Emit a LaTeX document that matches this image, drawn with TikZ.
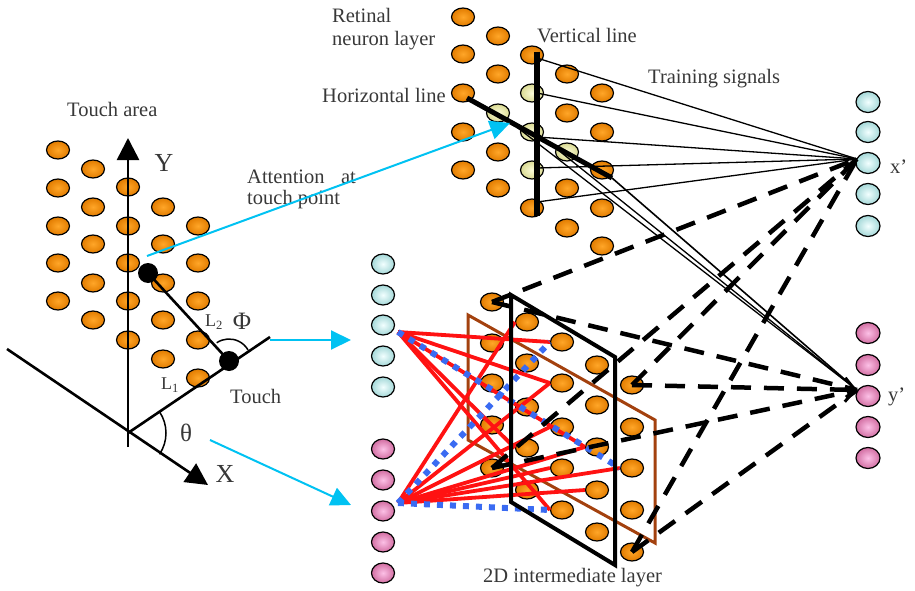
\documentclass[tikz,border=0pt]{standalone}
\usepackage{fontspec}
\setmainfont{Liberation Serif}
\usetikzlibrary{shapes.geometric,arrows.meta,calc}

\definecolor{txt}{HTML}{383838}
\definecolor{orin}{HTML}{FFA628}
\definecolor{orout}{HTML}{E27C00}
\definecolor{yein}{HTML}{FBFBD8}
\definecolor{yeout}{HTML}{DADA92}
\definecolor{cyin}{HTML}{F2FFFF}
\definecolor{cyout}{HTML}{A4D8D8}
\definecolor{pkin}{HTML}{FCC0E6}
\definecolor{pkout}{HTML}{D26EA2}
\definecolor{cyanline}{HTML}{00C2F2}
\definecolor{redl}{HTML}{FF1212}
\definecolor{bluel}{HTML}{3A6BF2}
\definecolor{brownl}{HTML}{A3410E}

\begin{document}
\begin{tikzpicture}[x=1pt,y=-1pt,
  lbl/.style={font=\fontsize{20.5}{23}\selectfont, text=txt, inner sep=0pt},
  biglbl/.style={font=\fontsize{26}{28}\selectfont, text=txt, inner sep=0pt},
  greek/.style={font=\fontsize{25}{27}\selectfont, text=txt, inner sep=0pt},
  dotbase/.style={ellipse, draw=black, line width=1.2pt, minimum width=23pt,
    minimum height=18pt, inner sep=0pt},
  od/.style={dotbase, inner color=orin, outer color=orout},
  yd/.style={dotbase, inner color=yein, outer color=yeout},
  cd/.style={dotbase, minimum height=20pt, inner color=cyin, outer color=cyout},
  pd/.style={dotbase, minimum height=20pt, inner color=pkin, outer color=pkout},
  xcd/.style={cd, minimum width=24pt, minimum height=21pt},
  ypd/.style={pd, minimum width=24pt, minimum height=21pt},
  bdot/.style={circle, fill=black, minimum size=20pt, inner sep=0pt},
  axisline/.style={line width=2.6pt, black},
  bigtip/.style={-{Triangle[width=22pt,length=22pt]}},
  cyarrow/.style={draw=cyanline, line width=2pt, -{Triangle[width=19pt,length=20pt]}},
  thinw/.style={line width=1.3pt},
  redw/.style={draw=redl, line width=3.8pt},
  bluedot/.style={draw=bluel, line width=6pt, dash pattern=on 6pt off 7pt},
  dashw/.style={line width=4.5pt, dash pattern=on 20pt off 13pt},
]
\useasboundingbox (0,0) rectangle (915,591);

% ---------- touch area ----------
\foreach \c/\x/\list in {1/58/{150,188,226,263,301}, 2/93/{169,207,244,283,320},
    3/128/{187,226,263,301,340}, 4/163/{207,244,283,320,359}, 5/198/{226,263,301,340,378}}
  \foreach \y [count=\r] in \list
    \node[od] (ta-\c-\r) at (\x,\y) {};

\coordinate (orig) at (128,433);
\coordinate (ytip) at (128,138);
\coordinate (ybot) at (128,447);
\coordinate (xstart) at (7,349);
\coordinate (xtip) at (208,485);
\coordinate (tend) at (270,337);
\draw[axisline, bigtip] (ybot) -- (ytip);
\draw[axisline, bigtip] (xstart) -- (xtip);
\draw[axisline] (orig) -- (tend);

\node[bdot] (p0) at (148,273) {};
\node[bdot] (touch) at (229,361) {};
\draw[axisline] (p0.center) -- (touch.center);

\draw[line width=1.5pt] ($(touch)+(-124:22)$) arc[start angle=-124, end angle=-30, radius=22];
\draw[line width=1.5pt] ($(orig)+(-34:38)$) arc[start angle=-34, end angle=34, radius=38];

\node[lbl, anchor=base west] (lbl-ta) at (67,117) {Touch area};
\node[biglbl] (lbl-y) at (164,163) {Y};
\node[biglbl] (lbl-x) at (225,474) {X};
\node[greek] (lbl-th) at (186,433) {θ};
\node[greek] (lbl-phi) at (242,321) {Φ};
\node[lbl, font=\fontsize{18}{20}\selectfont] (lbl-l2) at (214,322) {L\textsubscript{2}};
\node[lbl, font=\fontsize{18}{20}\selectfont] (lbl-l1) at (170,385) {L\textsubscript{1}};
\node[lbl, anchor=base west] (lbl-touch) at (230,403) {Touch};
\node[lbl, anchor=base west] (lbl-att1) at (247,183) {Attention\hspace{0.8em}at};
\node[lbl, anchor=base west] (lbl-att2) at (247,204) {touch point};

% ---------- retinal neuron layer ----------
\foreach \col/\x/\list in {
    a/463/{17/od,54/od,93/od,132/od,170/od},
    b/498/{36/od,74/od,113/yd,152/od,188/od},
    c/532/{55/od,93/yd,132/yd,170/yd,208/od},
    d/567/{74/od,113/od,152/yd,188/od,228/od},
    e/602/{93/od,132/od,170/od,208/od,246/od}}
  \foreach \y/\s [count=\r] in \list
    \node[\s] (ret-\col\r) at (\x,\y) {};

% output units
\foreach \y [count=\r] in {102,132,163,194,226}
  \node[xcd] (ox-\r) at (868,\y) {};
\foreach \y [count=\r] in {333,365,396,427,458}
  \node[ypd] (oy-\r) at (868,\y) {};

\coordinate (xin) at (857,159);
\coordinate (yin) at (857,390);
\coordinate (vtop) at (537,52);
\coordinate (vbot) at (537,216);
\coordinate (hstart) at (467,98);
\coordinate (hend) at (612,178);

\foreach \r/\dy in {1/3,2/0,3/5,4/-2,5/-6}
  \draw[thinw] ([shift={(5,\dy)}]ret-c\r.center) -- (xin);
\draw[line width=1.6pt] (hend) -- (yin);
\draw[thinw] ([shift={(5,1)}]ret-c3.center) -- (yin);
\draw[thinw] ([shift={(7,5)}]ret-b3.center) -- (yin);
\draw[line width=6pt] (vtop) -- (vbot);
\draw[line width=5pt] (hstart) -- (hend);

\node[lbl, anchor=base west] (lbl-ret1) at (332,23) {Retinal};
\node[lbl, anchor=base west] (lbl-ret2) at (332,46) {neuron layer};
\node[lbl, anchor=base west] (lbl-hl) at (322,103) {Horizontal line};
\node[lbl, anchor=base west] (lbl-vl) at (537,43) {Vertical line};
\node[lbl, anchor=base west] (lbl-tr) at (648,84) {Training signals};
\node[lbl, anchor=base west] (lbl-xo) at (890,173) {x’};
\node[lbl, anchor=base west] (lbl-yo) at (888,401) {y’};

% ---------- input units and 2D intermediate layer ----------
\foreach \y [count=\r] in {264,295,325,356,387}
  \node[cd] (ix-\r) at (383,\y) {};
\foreach \y [count=\r] in {449,480,511,542,573}
  \node[pd] (iy-\r) at (383,\y) {};

\foreach \col/\x/\list in {p/492/{302,343,383,425,468}, q/527/{322,363,407,448,490},
    r/562/{342,383,427,468,510}, s/597/{365,405,447,490,532}, t/632/{385,427,468,510,552}}
  \foreach \y [count=\r] in \list
    \node[od] (int-\col\r) at (\x,\y) {};

\draw[brownl, line width=3pt, line join=miter] (468,315) -- (655,420) -- (655,543) -- (468,440) -- cycle;

\coordinate (csrc) at (398,332);
\coordinate (ysrc) at (398,503);
\foreach \t in {int-r1, int-r2, int-s3, int-r5, int-q4}
  \draw[redw] (csrc) -- (\t.west);
\foreach \t in {int-q1, int-r2, int-r3, int-s3, int-t3, int-r4, int-s4}
  \draw[redw] (ysrc) -- (\t.west);
\draw[bluedot] (csrc) -- (int-t3.west);
\draw[bluedot] (ysrc) -- (int-r1.west);
\draw[bluedot] (ysrc) -- (int-r5.west);

\draw[black, line width=4pt, line join=miter] (511,295) -- (615,357) -- (615,565) -- (511,502) -- cycle;

\foreach \s in {int-p1, int-p5, int-t1, int-t5}
  \draw[dashw] (\s.center) -- (xin);
\foreach \s in {int-p1, int-p5, int-t5}
  \draw[dashw] (\s.center) -- (yin);
\draw[dashw, -{Straight Barb[length=10pt,width=24pt,line width=3pt]}] (int-t1.center) -- (yin);

\node[lbl, anchor=base west] (lbl-2d) at (483,582) {2D intermediate layer};

% ---------- attention arrows ----------
\coordinate (attA) at (147,256);
\coordinate (attB) at (510,123);
\coordinate (cyA) at (270,340);
\coordinate (cyB) at (351,340);
\coordinate (cyC) at (210,440);
\coordinate (cyD) at (351,505);
\draw[cyarrow] (attA) -- (attB);
\draw[cyarrow] (cyA) -- (cyB);
\draw[cyarrow] (cyC) -- (cyD);
\end{tikzpicture}
\end{document}
